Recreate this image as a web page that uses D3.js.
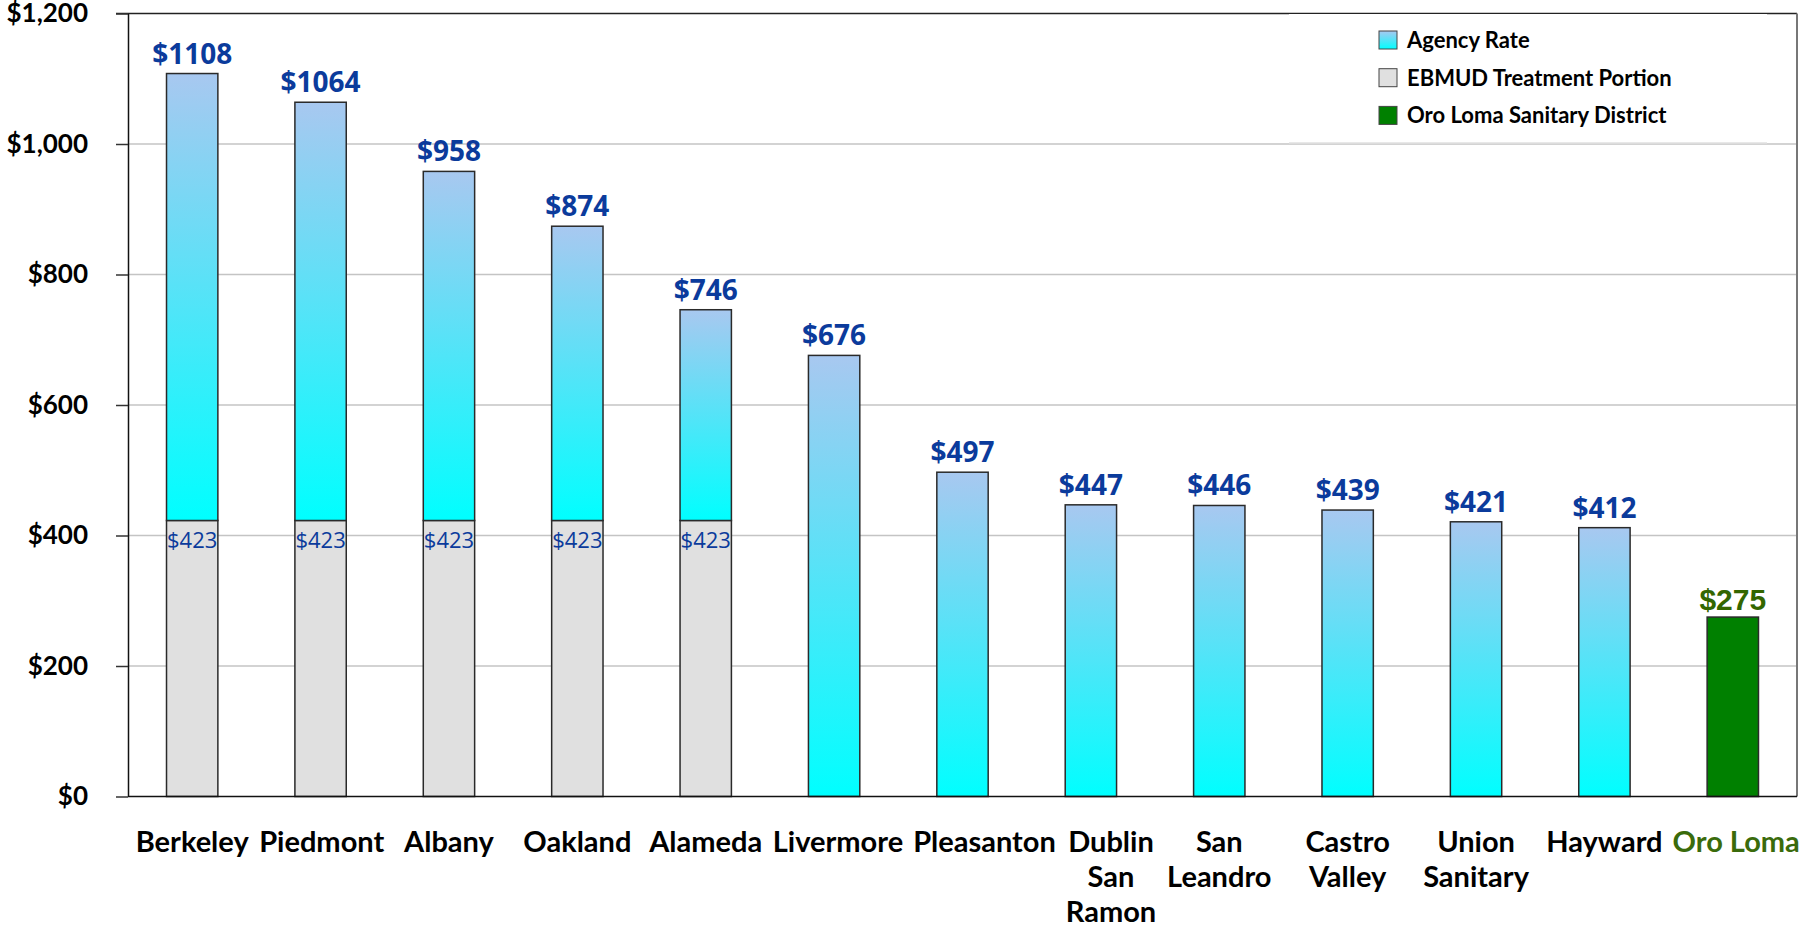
<!DOCTYPE html>
<html>
<head>
<meta charset="utf-8">
<script src="https://cdn.jsdelivr.net/npm/d3@7"></script>
<style>
  body { margin: 0; background: #fff; }
  svg { display: block; }
</style>
</head>
<body>
<svg id="chart" width="1808" height="925"></svg>
<script>
// sewer rates by agency, $ per year
var categories = ["Berkeley", "Piedmont", "Albany", "Oakland", "Alameda", "Livermore",
  "Pleasanton", "Dublin San Ramon", "San Leandro", "Castro Valley", "Union Sanitary",
  "Hayward", "Oro Loma"];
var xLabels = [["Berkeley"], ["Piedmont"], ["Albany"], ["Oakland"], ["Alameda"], ["Livermore"],
  ["Pleasanton"], ["Dublin", "San", "Ramon"], ["San", "Leandro"], ["Castro", "Valley"],
  ["Union", "Sanitary"], ["Hayward"], ["Oro Loma"]];
var ebmudPortion = [423, 423, 423, 423, 423, 0, 0, 0, 0, 0, 0, 0, 0];
var agencyRate   = [685, 641, 535, 451, 323, 676, 497, 447, 446, 439, 421, 412, 0];
var oroLoma      = [0, 0, 0, 0, 0, 0, 0, 0, 0, 0, 0, 0, 275];
var yTicks = [0, 200, 400, 600, 800, 1000, 1200];
var legendItems = ["Agency Rate", "EBMUD Treatment Portion", "Oro Loma Sanitary District"];

var svg = d3.select("#chart"),
    margin = {top: 13.5, right: 11, bottom: 128.5, left: 128},
    width = +svg.attr("width") - margin.left - margin.right,
    height = +svg.attr("height") - margin.top - margin.bottom;

var defs = svg.append("defs");
var grad = defs.append("linearGradient")
    .attr("id", "agencyGrad")
    .attr("x1", 0).attr("y1", 0).attr("x2", 0).attr("y2", 1);
grad.append("stop").attr("offset", "0%").attr("stop-color", "#a8c8f0");
grad.append("stop").attr("offset", "100%").attr("stop-color", "#00ffff");

var g = svg.append("g").attr("transform", "translate(" + margin.left + "," + margin.top + ")");

var x = d3.scaleBand()
    .domain(categories)
    .range([0, width])
    .paddingInner(0.6)
    .paddingOuter(0.3);

var y = d3.scaleLinear()
    .domain([0, 1200])
    .range([height, 0]);

var rows = categories.map(function(c, i) {
  return {name: c, ebmud: ebmudPortion[i], agency: agencyRate[i], oro: oroLoma[i], i: i};
});
var stack = d3.stack().keys(["ebmud", "agency", "oro"]);
var layers = stack(rows);
var fills = {ebmud: "#e0e0e0", agency: "url(#agencyGrad)", oro: "#008000"};

// gridlines
g.append("g")
  .selectAll("line")
  .data(yTicks.filter(function(d) { return d > 0 && d < 1200; }))
  .enter().append("line")
    .attr("x1", 0)
    .attr("x2", width)
    .attr("y1", function(d) { return y(d); })
    .attr("y2", function(d) { return y(d); })
    .attr("stroke", "#c4c4c4")
    .attr("stroke-width", 1.5);

// legend background
var legend = svg.append("g").attr("transform", "translate(1289,14)");
legend.append("rect")
    .attr("width", 478).attr("height", 129)
    .attr("fill", "#fff");
legend.append("line")
    .attr("x1", 0).attr("x2", 478)
    .attr("y1", 129).attr("y2", 129)
    .attr("stroke", "#e0e0e0")
    .attr("stroke-width", 1.5);

// bars
layers.forEach(function(layer) {
  g.append("g")
    .selectAll("rect")
    .data(layer.filter(function(d) { return d[1] > d[0]; }))
    .enter().append("rect")
      .attr("x", function(d) { return x(d.data.name); })
      .attr("y", function(d) { return y(d[1]); })
      .attr("width", x.bandwidth())
      .attr("height", function(d) { return y(d[0]) - y(d[1]); })
      .attr("fill", fills[layer.key])
      .attr("stroke", "#2a2a2a")
      .attr("stroke-width", 1.5);
});

// frame
g.append("line")
    .attr("x1", -12).attr("x2", width).attr("y1", 0).attr("y2", 0)
    .attr("stroke", "#222").attr("stroke-width", 1.5);
g.append("line")
    .attr("x1", width).attr("x2", width).attr("y1", 0).attr("y2", height)
    .attr("stroke", "#777").attr("stroke-width", 2);
g.append("line")
    .attr("x1", 0).attr("x2", width).attr("y1", height).attr("y2", height)
    .attr("stroke", "#111").attr("stroke-width", 1.5);

// y axis
var yAxis = g.append("g")
    .call(d3.axisLeft(y)
      .tickValues(yTicks)
      .tickSizeInner(12)
      .tickSizeOuter(0)
      .tickPadding(28)
      .tickFormat(function(d) { return "$" + d3.format(",")(d); }));
yAxis.select(".domain").attr("stroke", "#111").attr("stroke-width", 1.5);
yAxis.selectAll(".tick line").attr("stroke", "#333").attr("stroke-width", 1.5);
yAxis.selectAll("text")
    .attr("fill", "#000")
    .style("font-family", "Lato, sans-serif")
    .style("font-weight", "bold")
    .style("font-size", "26px");

// x axis labels
var xAxis = g.append("g")
    .attr("transform", "translate(0," + height + ")")
    .call(d3.axisBottom(x).tickSize(0).tickFormat(""));
xAxis.select(".domain").remove();
var labelTexts = [];
xAxis.selectAll(".tick").each(function(d, i) {
  var t = d3.select(this).append("text")
      .attr("text-anchor", "middle")
      .attr("fill", d === "Oro Loma" ? "#3a6b0c" : "#000")
      .style("font-family", "Lato, sans-serif")
      .style("font-weight", "bold")
      .style("font-size", "29px");
  xLabels[i].forEach(function(line, j) {
    t.append("tspan")
      .attr("x", 0)
      .attr("y", 55.5 + j * 35)
      .text(line);
  });
  labelTexts.push({node: t, center: x(d) + x.bandwidth() / 2, w: t.node().getBBox().width});
});
// push labels right where they would collide with their left neighbour
for (var k = 1; k < labelTexts.length; k++) {
  var prev = labelTexts[k - 1], cur = labelTexts[k];
  var prevRight = prev.center + prev.w / 2 + 10;
  var curLeft = cur.center - cur.w / 2;
  if (curLeft < prevRight) {
    cur.center += prevRight - curLeft;
    cur.node.attr("transform", "translate(" + (cur.center - (x(categories[k]) + x.bandwidth() / 2)) + ",0)");
  }
}

// total labels on top of each bar
g.append("g")
  .selectAll("text")
  .data(rows)
  .enter().append("text")
    .attr("x", function(d) { return x(d.name) + x.bandwidth() / 2; })
    .attr("y", function(d) { return y(d.ebmud + d.agency + d.oro) - (d.oro ? 7 : 10); })
    .attr("text-anchor", "middle")
    .attr("fill", function(d) { return d.oro ? "#336600" : "#0b3b9c"; })
    .style("font-family", function(d) { return d.oro ? "'Liberation Sans', Arial, sans-serif" : "'Open Sans', sans-serif"; })
    .style("font-weight", "bold")
    .style("font-size", function(d) { return d.oro ? "30px" : "28px"; })
    .text(function(d) { return "$" + (d.ebmud + d.agency + d.oro); });

// EBMUD portion labels
g.append("g")
  .selectAll("text")
  .data(rows.filter(function(d) { return d.ebmud > 0; }))
  .enter().append("text")
    .attr("x", function(d) { return x(d.name) + x.bandwidth() / 2; })
    .attr("y", function(d) { return y(d.ebmud) + 28; })
    .attr("text-anchor", "middle")
    .attr("fill", "#0b3b9c")
    .style("font-family", "'Open Sans', sans-serif")
    .style("font-size", "22px")
    .text(function(d) { return "$" + d.ebmud; });

// legend entries
var legendFills = ["url(#agencyGrad)", "#e0e0e0", "#008000"];
var li = legend.selectAll(".item")
  .data(legendItems)
  .enter().append("g")
    .attr("class", "item")
    .attr("transform", function(d, i) { return "translate(90," + (17 + i * 37.7) + ")"; });
li.append("rect")
    .attr("width", 18).attr("height", 18)
    .attr("fill", function(d, i) { return legendFills[i]; })
    .attr("stroke", "#444")
    .attr("stroke-width", 1);
li.append("text")
    .attr("x", 28)
    .attr("y", 17)
    .attr("fill", "#000")
    .style("font-family", "Lato, sans-serif")
    .style("font-weight", "bold")
    .style("font-size", "22px")
    .text(function(d) { return d; });
</script>
</body>
</html>
